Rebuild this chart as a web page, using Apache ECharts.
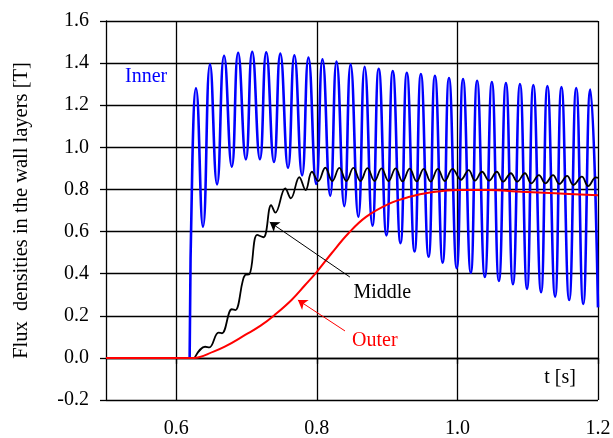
<!DOCTYPE html>
<html>
<head>
<meta charset="utf-8">
<script src="https://cdn.jsdelivr.net/npm/echarts@6/dist/echarts.min.js"></script>
<style>
html,body{margin:0;padding:0;background:#fff;}
#main{width:613px;height:438px;}
</style>
</head>
<body>
<div id="main"></div>
<script>
// inner layer (blue) - peaks and troughs
var innerT = [0.619, 0.623, 0.628, 0.638, 0.648, 0.658, 0.668, 0.679, 0.688, 0.699,
              0.708, 0.719, 0.728, 0.739, 0.748, 0.759, 0.768, 0.779, 0.788, 0.799,
              0.808, 0.819, 0.828, 0.839, 0.848, 0.859, 0.868, 0.879, 0.888, 0.899,
              0.908, 0.919, 0.928, 0.939, 0.948, 0.959, 0.968, 0.979, 0.988, 0.999,
              1.008, 1.019, 1.028, 1.039, 1.049, 1.059, 1.069, 1.079, 1.089, 1.099,
              1.108, 1.119, 1.128, 1.139, 1.148, 1.159, 1.169, 1.179, 1.189, 1.200];
var innerB = [0.000, 0.950, 1.280, 0.623, 1.394, 0.824, 1.435, 0.908, 1.449, 0.943,
              1.454, 0.944, 1.451, 0.930, 1.445, 0.903, 1.437, 0.867, 1.427, 0.826,
              1.418, 0.770, 1.407, 0.721, 1.394, 0.670, 1.383, 0.628, 1.373, 0.582,
              1.362, 0.545, 1.354, 0.505, 1.348, 0.480, 1.340, 0.452, 1.329, 0.426,
              1.324, 0.404, 1.316, 0.384, 1.310, 0.366, 1.305, 0.350, 1.301, 0.328,
              1.296, 0.312, 1.291, 0.291, 1.286, 0.275, 1.282, 0.256, 1.275, 0.240];

// middle layer (black)
var middleT = [0.626, 0.641, 0.647, 0.660, 0.665, 0.679, 0.684, 0.698, 0.704, 0.715,
               0.724, 0.735, 0.741, 0.755, 0.763, 0.775, 0.784, 0.793, 0.802, 0.812,
               0.822, 0.832, 0.842, 0.852, 0.862, 0.872, 0.882, 0.892, 0.902, 0.912,
               0.922, 0.932, 0.942, 0.952, 0.962, 0.972, 0.982, 0.993, 1.005, 1.016,
               1.025, 1.035, 1.045, 1.056, 1.065, 1.076, 1.085, 1.096, 1.105, 1.116,
               1.125, 1.136, 1.145, 1.156, 1.165, 1.177, 1.186, 1.197, 1.200];
var middleB = [0.000, 0.053, 0.050, 0.120, 0.117, 0.231, 0.227, 0.394, 0.397, 0.584,
               0.573, 0.726, 0.690, 0.805, 0.758, 0.858, 0.797, 0.884, 0.840, 0.903,
               0.840, 0.902, 0.840, 0.902, 0.840, 0.901, 0.840, 0.900, 0.839, 0.900,
               0.838, 0.899, 0.838, 0.898, 0.837, 0.898, 0.840, 0.898, 0.846, 0.892,
               0.842, 0.884, 0.842, 0.884, 0.837, 0.877, 0.837, 0.877, 0.829, 0.868,
               0.829, 0.868, 0.826, 0.864, 0.821, 0.861, 0.816, 0.857, 0.855];

// outer layer (red)
var outerT = [0.500, 0.625, 0.653, 0.669, 0.698, 0.720, 0.740, 0.764, 0.783, 0.800,
              0.821, 0.845, 0.870, 0.904, 0.932, 0.961, 1.000, 1.044, 1.091, 1.139,
              1.200];
var outerB = [0.000, 0.000, 0.030, 0.053, 0.109, 0.153, 0.204, 0.275, 0.345, 0.409,
              0.497, 0.592, 0.670, 0.734, 0.765, 0.785, 0.797, 0.797, 0.789, 0.782,
              0.772];

var xTicks = [0.6, 0.8, 1.0, 1.2];

function zip(a, b) {
    var out = [];
    for (var i = 0; i < a.length; i++) {
        out.push([a[i], b[i]]);
    }
    return out;
}

var font = '"Liberation Serif", "Times New Roman", serif';
var myChart = echarts.init(document.getElementById('main'), null, {renderer: 'canvas'});

var option = {
    animation: false,
    backgroundColor: '#fff',
    grid: {left: 106, right: 15, top: 21, bottom: 38, outerBoundsMode: 'none', containLabel: false},
    xAxis: {
        type: 'value',
        min: 0.5,
        max: 1.2,
        axisLine: {show: true, lineStyle: {color: '#000', width: 1.3}},
        axisTick: {show: true, inside: false, length: 6, customValues: xTicks, lineStyle: {color: '#000', width: 1.3}},
        axisLabel: {
            customValues: xTicks, margin: 19, color: '#000',
            fontFamily: font, fontSize: 20,
            formatter: function (v) { return v.toFixed(1); }
        },
        splitLine: {show: true, lineStyle: {color: '#000', width: 1.3}}
    },
    yAxis: {
        type: 'value',
        min: -0.2,
        max: 1.6,
        interval: 0.2,
        name: 'Flux  densities in the wall layers [T]',
        nameLocation: 'middle',
        nameGap: 74,
        nameTextStyle: {color: '#000', fontFamily: font, fontSize: 20.5},
        axisLine: {show: true, lineStyle: {color: '#000', width: 1.3}},
        axisTick: {show: true, inside: false, length: 6, lineStyle: {color: '#000', width: 1.3}},
        axisLabel: {
            margin: 17, color: '#000', fontFamily: font, fontSize: 20,
            formatter: function (v) { return v.toFixed(1); }
        },
        splitLine: {show: true, lineStyle: {color: '#000', width: 1.3}}
    },
    series: [
        {
            name: 'Inner', type: 'line', data: zip(innerT, innerB),
            showSymbol: false, smooth: 0.5,
            lineStyle: {color: '#0000ff', width: 2.6}
        },
        {
            name: 'Middle', type: 'line', data: zip(middleT, middleB),
            showSymbol: false, smooth: 0.4,
            lineStyle: {color: '#000', width: 1.8},
            markLine: {
                silent: true, symbol: ['none', 'arrow'], symbolSize: 9,
                label: {show: false},
                lineStyle: {color: '#000', width: 1, type: 'solid'},
                data: [[{coord: [0.847, 0.384]}, {coord: [0.733, 0.645]}]]
            }
        },
        {
            name: 'Outer', type: 'line', data: zip(outerT, outerB),
            showSymbol: false, smooth: 0.4,
            lineStyle: {color: '#ff0000', width: 2},
            markLine: {
                silent: true, symbol: ['none', 'arrow'], symbolSize: 9,
                label: {show: false},
                lineStyle: {color: '#ff0000', width: 1, type: 'solid'},
                data: [[{coord: [0.840, 0.128]}, {coord: [0.773, 0.275]}]]
            }
        }
    ]
};
myChart.setOption(option);

// text notes placed in data coordinates
var notes = [
    {text: 'Inner', t: 0.527, b: 1.333, color: '#0000ff', align: 'left'},
    {text: 'Middle', t: 0.852, b: 0.308, color: '#000', align: 'left'},
    {text: 'Outer', t: 0.850, b: 0.080, color: '#ff0000', align: 'left'},
    {text: 't [s]', t: 1.146, b: -0.095, color: '#000', align: 'center'}
];
var els = [];
for (var i = 0; i < notes.length; i++) {
    var p = myChart.convertToPixel({gridIndex: 0}, [notes[i].t, notes[i].b]);
    els.push({
        type: 'text', x: p[0], y: p[1],
        style: {
            text: notes[i].text, fill: notes[i].color,
            font: '20px ' + font, align: notes[i].align, verticalAlign: 'middle'
        }
    });
}
myChart.setOption({graphic: els});
</script>
</body>
</html>
